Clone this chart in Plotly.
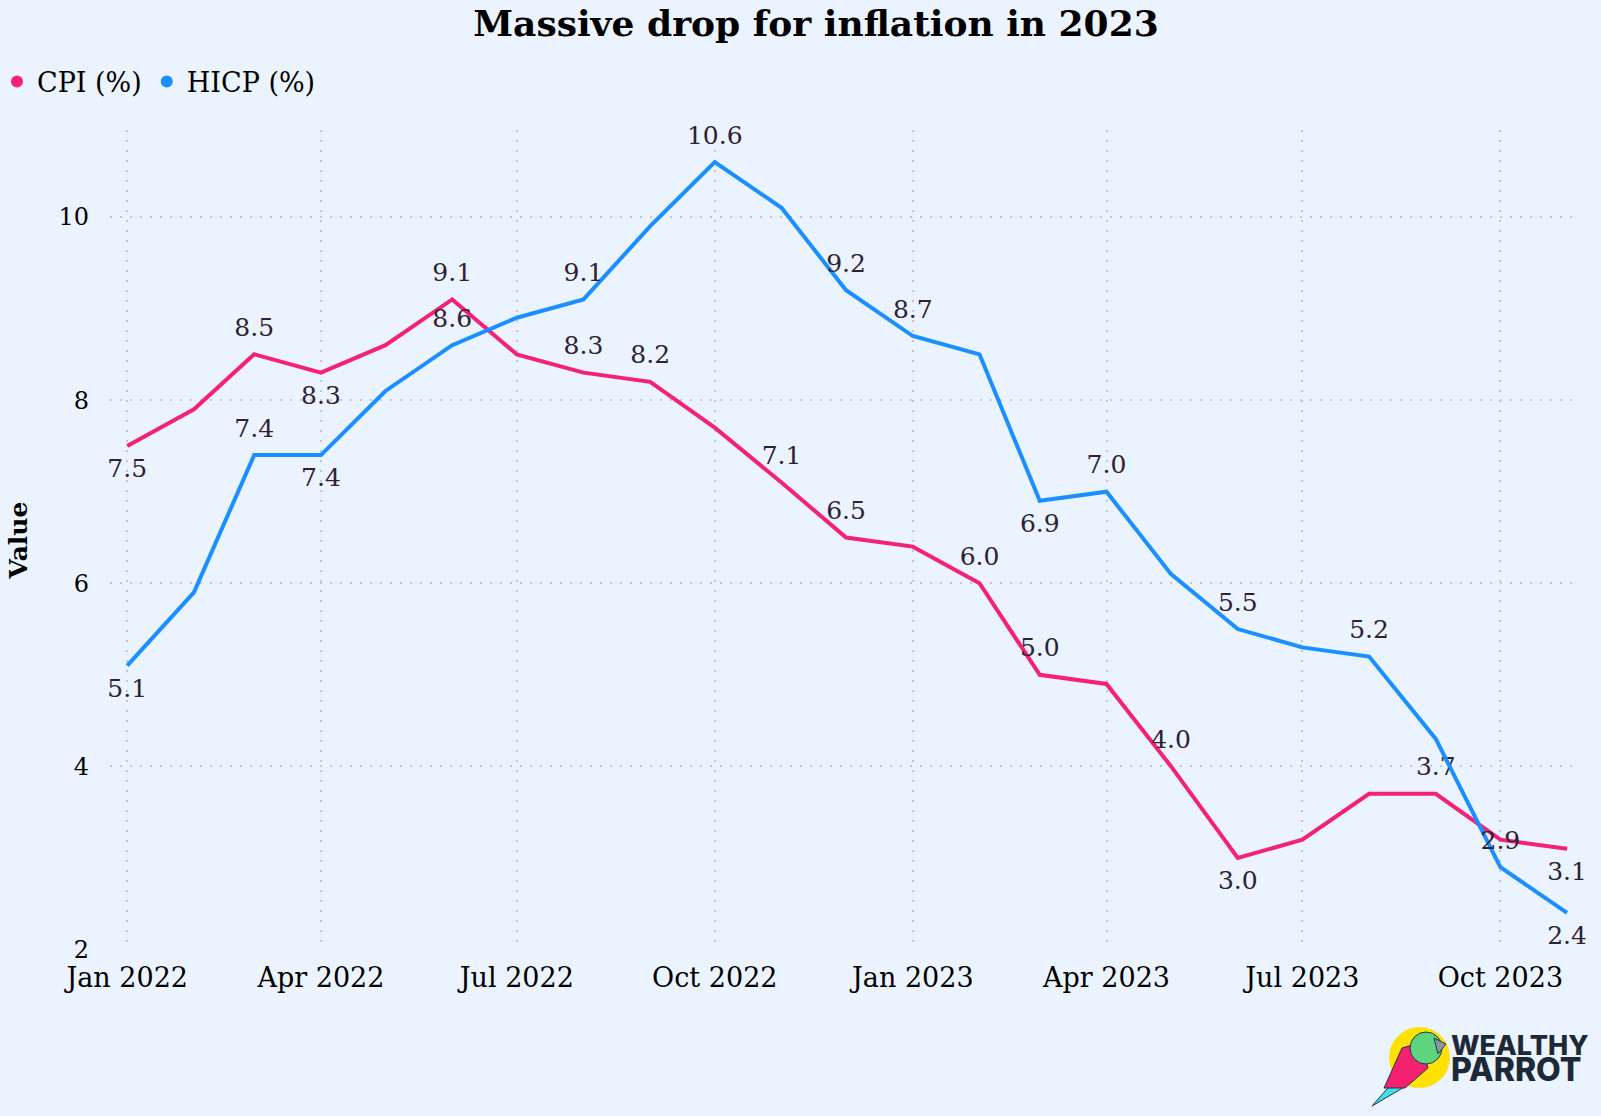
import plotly.graph_objects as go

# ---- data ----
months = ["2022-01-01", "2022-02-01", "2022-03-01", "2022-04-01", "2022-05-01", "2022-06-01",
          "2022-07-01", "2022-08-01", "2022-09-01", "2022-10-01", "2022-11-01", "2022-12-01",
          "2023-01-01", "2023-02-01", "2023-03-01", "2023-04-01", "2023-05-01", "2023-06-01",
          "2023-07-01", "2023-08-01", "2023-09-01", "2023-10-01", "2023-11-01"]
cpi = [7.5, 7.9, 8.5, 8.3, 8.6, 9.1, 8.5, 8.3, 8.2, 7.7, 7.1, 6.5,
       6.4, 6.0, 5.0, 4.9, 4.0, 3.0, 3.2, 3.7, 3.7, 3.2, 3.1]
hicp = [5.1, 5.9, 7.4, 7.4, 8.1, 8.6, 8.9, 9.1, 9.9, 10.6, 10.1, 9.2,
        8.7, 8.5, 6.9, 7.0, 6.1, 5.5, 5.3, 5.2, 4.3, 2.9, 2.4]
# which points carry a value label, and on which side
cpi_label_pos = {0: "bottom", 2: "top", 3: "bottom", 5: "top", 7: "top", 8: "top", 10: "top",
                 11: "top", 13: "top", 14: "top", 16: "top", 17: "bottom", 20: "top", 22: "bottom"}
hicp_label_pos = {0: "bottom", 2: "top", 3: "bottom", 5: "top", 7: "top", 9: "top", 11: "top",
                  12: "top", 14: "bottom", 15: "top", 17: "top", 19: "top", 21: "top", 22: "bottom"}

BG = "#EBF3FE"
PINK = "#F5207A"
BLUE = "#1A8FFF"
FONT = "Georgia, 'DejaVu Serif', serif"
LABEL_COLOR = "#2E2232"
GRID = "#C3C8CF"


def labels(vals, pos):
    txt = [f"{v:.1f}" if i in pos else "" for i, v in enumerate(vals)]
    tp = [(pos.get(i, "top") + " center") for i in range(len(vals))]
    return txt, tp


fig = go.Figure()
for name, vals, pos, col in [("CPI (%)", cpi, cpi_label_pos, PINK),
                             ("HICP (%)", hicp, hicp_label_pos, BLUE)]:
    txt, tp = labels(vals, pos)
    fig.add_trace(go.Scatter(x=months, y=vals, mode="lines+markers+text", name=name,
                             line=dict(color=col, width=4),
                             marker=dict(size=18, color="rgba(0,0,0,0)"),
                             text=txt, textposition=tp,
                             textfont=dict(family=FONT, size=25, color=LABEL_COLOR),
                             showlegend=False, cliponaxis=False, hoverinfo="x+y"))
    fig.add_trace(go.Scatter(x=[None], y=[None], mode="markers", name=name,
                             marker=dict(color=col, size=16, symbol="circle")))

# plot area in pixels
L, R, T, B = 110, 21, 130, 166
W, H = 1601, 1116
pw, ph = W - L - R, H - T - B


def px(x):
    return (x - L) / pw


def py(y):
    return (H - B - y) / ph


# logo: sun, parrot and wordmark
shapes = [
    dict(type="circle", xref="paper", yref="paper", x0=px(1389), x1=px(1450),
         y0=py(1088), y1=py(1027), fillcolor="#FFE203", line=dict(width=0), layer="above"),
    dict(type="path", xref="paper", yref="paper",
         path=f"M {px(1372)} {py(1106)} L {px(1395)} {py(1080)} L {px(1406)} {py(1086)} Z",
         fillcolor="#3FE0E8", line=dict(color="#1b3a4b", width=1)),
    dict(type="path", xref="paper", yref="paper",
         path=(f"M {px(1384)} {py(1088)} L {px(1402)} {py(1048)} L {px(1422)} {py(1042)} "
               f"L {px(1428)} {py(1068)} L {px(1405)} {py(1088)} Z"),
         fillcolor="#F4226E", line=dict(color="#1b3a4b", width=1)),
    dict(type="circle", xref="paper", yref="paper", x0=px(1410), x1=px(1442),
         y0=py(1064), y1=py(1032), fillcolor="#5ED47E", line=dict(color="#1b3a4b", width=1)),
    dict(type="path", xref="paper", yref="paper",
         path=f"M {px(1434)} {py(1038)} L {px(1446)} {py(1044)} L {px(1438)} {py(1054)} Z",
         fillcolor="#8a98a5", line=dict(color="#1b3a4b", width=1)),
]

annotations = [
    dict(text=("<span style='font-size:27px'>WEALTHY</span><br>"
               "<span style='font-size:32px'>PARROT</span>"),
         x=px(1449), y=py(1059), xref="paper", yref="paper", xanchor="left", align="left",
         yanchor="middle", showarrow=False,
         font=dict(family="Inter, 'Open Sans', sans-serif", size=20, color="#1E2937", weight=800)),
]

fig.update_layout(
    width=W, height=H,
    margin=dict(l=L, r=R, t=T, b=B, autoexpand=False),
    paper_bgcolor=BG, plot_bgcolor=BG,
    font=dict(family=FONT, color="#000000"),
    title=dict(text="<b>Massive drop for inflation in 2023</b>", x=816 / W, xref="container",
               xanchor="center", y=1 - 23 / H, yref="container", yanchor="middle",
               font=dict(family=FONT, size=36, color="#000000")),
    legend=dict(orientation="h", x=px(-3), xanchor="left", y=py(82), yanchor="middle",
                font=dict(family=FONT, size=27, color="#000000"), itemwidth=30,
                bgcolor="rgba(0,0,0,0)", tracegroupgap=0, itemsizing="constant"),
    shapes=shapes,
    annotations=annotations,
)
fig.update_xaxes(type="date", range=["2021-12-24", "2023-11-07"], dtick="M3", tick0="2022-01-01",
                 tickformat="%b %Y", showgrid=True, gridcolor=GRID, griddash="2px,8px",
                 gridwidth=1.5, zeroline=False, showline=False, ticks="", automargin=False,
                 ticklabelstandoff=9,
                 tickfont=dict(family=FONT, size=27, color="#000000"))
fig.update_yaxes(range=[1.995, 10.95], dtick=2, tick0=0, showgrid=True, gridcolor=GRID,
                 griddash="2px,8px", gridwidth=1.5, zeroline=False, showline=False, ticks="",
                 automargin=False, ticklabelstandoff=20,
                 tickfont=dict(family=FONT, size=24, color="#000000"),
                 title=dict(text="<b>Value</b>", font=dict(family=FONT, size=25, color="#000000"),
                            standoff=23))

fig.write_html("out.html")
